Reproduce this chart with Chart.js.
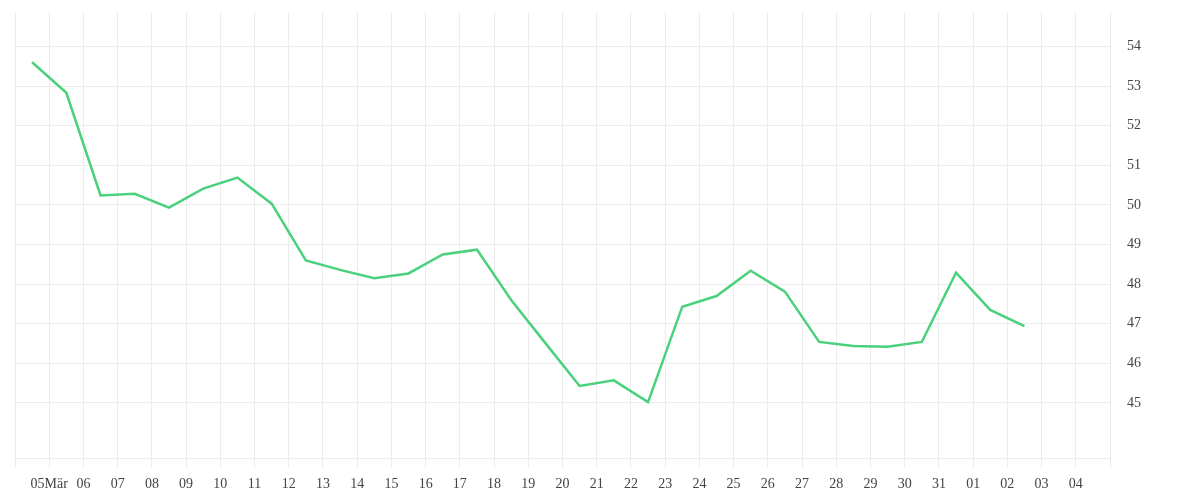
<!DOCTYPE html>
<html>
<head>
<meta charset="utf-8">
<title>Line chart</title>
<script src="https://cdn.jsdelivr.net/npm/chart.js@4.4.1/dist/chart.umd.min.js"></script>
<style>
  html, body { margin: 0; padding: 0; background: #fff; }
  #wrap { width: 1200px; height: 500px; }
</style>
</head>
<body>
<div id="wrap"><canvas id="lineChart" width="1200" height="500"></canvas></div>
<script>
// x axis labels: one per day, 05 Mär .. 04 Apr (tick value = days since 04 Mär 00:00)
const dayLabels = ['05Mär', '06', '07', '08', '09', '10', '11', '12', '13', '14', '15', '16',
  '17', '18', '19', '20', '21', '22', '23', '24', '25', '26', '27', '28', '29', '30', '31',
  '01', '02', '03', '04'];

// daily values, plotted at noon from 04 Mär to 02 Apr
const dayOffsets = [0.5, 1.5, 2.5, 3.5, 4.5, 5.5, 6.5, 7.5, 8.5, 9.5, 10.5, 11.5, 12.5, 13.5, 14.5,
  15.5, 16.5, 17.5, 18.5, 19.5, 20.5, 21.5, 22.5, 23.5, 24.5, 25.5, 26.5, 27.5, 28.5, 29.5];
const values = [53.60, 52.83, 50.24, 50.28, 49.93, 50.41, 50.69, 50.03, 48.60, 48.36, 48.15,
  48.27, 48.75, 48.87, 47.60, 46.51, 45.43, 45.57, 45.02, 47.43, 47.70, 48.34, 47.81, 46.54,
  46.44, 46.42, 46.54, 48.29, 47.35, 46.94];

const yTicks = [45, 46, 47, 48, 49, 50, 51, 52, 53, 54];

const gridColor = '#ececec';
const textColor = '#444';

const points = dayOffsets.map((d, i) => ({ x: d, y: values[i] }));

const ctx = document.getElementById('lineChart').getContext('2d');
const chart = new Chart(ctx, {
  type: 'line',
  data: {
    datasets: [{
      data: points,
      borderColor: '#4ad17c',
      borderWidth: 2.5,
      pointRadius: 0,
      tension: 0,
      fill: false
    }]
  },
  options: {
    responsive: false,
    animation: false,
    layout: { padding: { left: 15, top: 12, right: 0, bottom: 0 } },
    plugins: { legend: { display: false }, tooltip: { enabled: false } },
    font: { family: '"Liberation Serif", serif', size: 14 },
    scales: {
      x: {
        type: 'linear',
        min: 0,
        max: 32,
        afterBuildTicks: axis => {
          axis.ticks = [];
          for (let i = 0; i <= dayLabels.length + 1; i++) axis.ticks.push({ value: i });
        },
        afterFit: axis => {
          axis.height = 42;
          axis.paddingLeft = 0;
          axis.paddingRight = 0;
        },
        grid: { color: gridColor, tickLength: 10, drawTicks: true },
        border: { color: gridColor },
        ticks: {
          autoSkip: false,
          maxRotation: 0,
          padding: 8,
          color: textColor,
          font: { family: '"Liberation Serif", serif', size: 14 },
          callback: v => dayLabels[v - 1] || ''
        }
      },
      y: {
        position: 'right',
        min: 43.61,
        max: 54.87,
        afterBuildTicks: axis => {
          axis.ticks = yTicks.map(v => ({ value: v }));
        },
        afterFit: axis => {
          axis.width = 90;
          axis.paddingTop = 0;
          axis.paddingBottom = 0;
        },
        grid: { color: gridColor, drawTicks: false },
        border: { color: gridColor },
        ticks: {
          padding: 17,
          color: textColor,
          font: { family: '"Liberation Serif", serif', size: 14 }
        }
      }
    }
  }
});
</script>
</body>
</html>
